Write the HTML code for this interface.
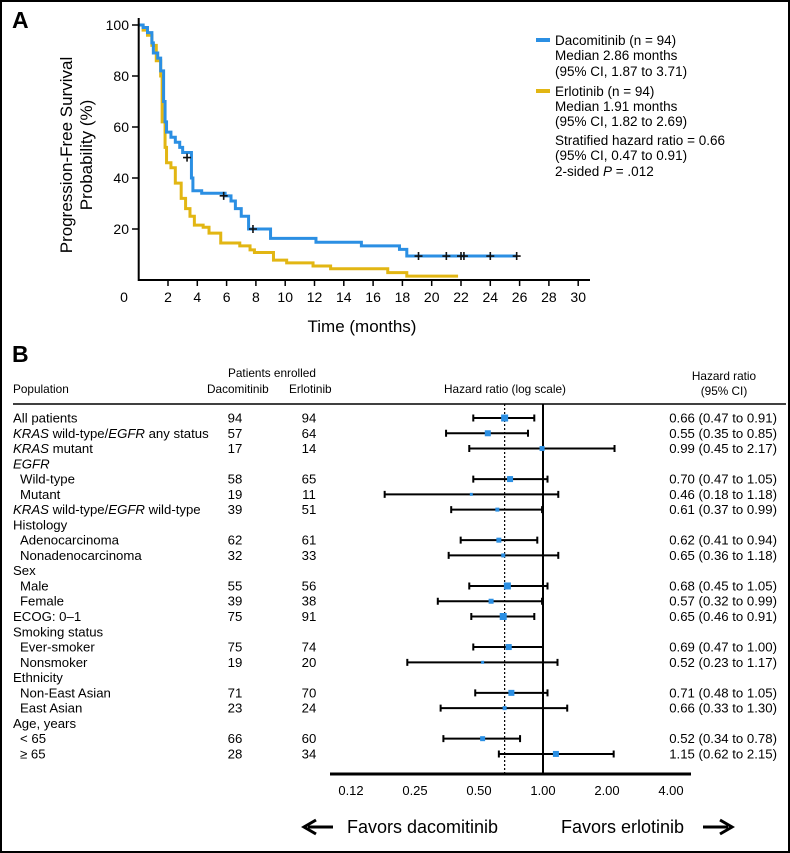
<!DOCTYPE html>
<html><head><meta charset="utf-8"><style>
html,body{margin:0;padding:0;background:#fff}
svg{display:block;font-family:"Liberation Sans",Arial,sans-serif}
</style></head><body>
<svg id="fig" width="790" height="853" viewBox="0 0 790 853" xmlns="http://www.w3.org/2000/svg">
<rect x="1" y="1" width="788" height="851" fill="#fff" stroke="#000" stroke-width="2"/>
<text x="12" y="28" font-size="23" font-weight="bold">A</text>
<text x="12" y="362" font-size="23" font-weight="bold">B</text>
<g id="km"></g>
<g id="forest"></g>
</svg>
<script>
const NS="http://www.w3.org/2000/svg";
// ---- KM data ----
const kmXTicks=[2,4,6,8,10,12,14,16,18,20,22,24,26,28,30];
const kmYTicks=[20,40,60,80,100];
const dacoTimes=[0,0.3,0.6,0.9,1.0,1.3,1.5,1.7,1.8,1.9,2.2,2.5,2.8,3.0,3.6,3.7,4.3,5.9,6.3,6.6,7.0,7.5,9.0,12.1,15.2,17.8,18.3,25.8];
const dacoSurv=[100,99,97,93,89,87,82,70,62,58,56,54,52,50,40,35,34,33,31,28,25,20,16.3,14.8,13.4,12,9.4,9.4];
const dacoCensorT=[3.3,5.8,7.8,19.1,21.0,22.0,22.2,24.0,25.8];
const dacoCensorS=[48,33,20,9.4,9.4,9.4,9.4,9.4,9.4];
const erloTimes=[0,0.3,0.6,0.9,1.2,1.5,1.6,1.8,1.9,2.2,2.5,2.9,3.2,3.5,3.8,4.4,4.8,5.6,6.9,7.6,7.9,9.2,10.1,11.9,13.1,17.0,18.3,21.8];
const erloSurv=[100,98,96,92,86,80,62,52,46,44,38,32,28,25,21.5,20.7,18.4,14.5,13.4,11.8,10.8,7.8,6.7,5.5,4.4,2.9,1.5,1.5];
const kx=t=>138.7+t*14.65, ky=s=>280-s*2.55;
function el(tag,attrs,parent,txt){const e=document.createElementNS(NS,tag);for(const k in attrs)e.setAttribute(k,attrs[k]);if(txt!==undefined)e.textContent=txt;parent.appendChild(e);return e;}
const km=document.getElementById('km');
function stepPath(T,S){let d=`M${kx(T[0])},${ky(S[0])}`;for(let i=1;i<T.length;i++){d+=`H${kx(T[i])}V${ky(S[i])}`;}return d;}
let p=el('path',{d:stepPath(erloTimes,erloSurv),fill:'none',stroke:'#e2b613','stroke-width':3},km);


p=el('path',{d:stepPath(dacoTimes,dacoSurv),fill:'none',stroke:'#2b8fe3','stroke-width':3},km);


dacoCensorT.forEach((t,i)=>{const g=el('path',{d:`M${kx(t)-4},${ky(dacoCensorS[i])}h8M${kx(t)},${ky(dacoCensorS[i])-4}v8`,stroke:'#111','stroke-width':1.6},km);

});
let ax=el('path',{d:`M138.7,18V280H590`,fill:'none',stroke:'#000','stroke-width':2},km);


kmXTicks.forEach(t=>{const tk=el('line',{x1:kx(t),x2:kx(t),y1:280,y2:286,stroke:'#000','stroke-width':1.5},km);


const l=el('text',{x:kx(t),y:302,'font-size':14,'text-anchor':'middle'},km,String(t));

});
let z=el('text',{x:124,y:302,'font-size':14,'text-anchor':'middle'},km,'0');


kmYTicks.forEach(s=>{const tk=el('line',{x1:132,x2:138.7,y1:ky(s),y2:ky(s),stroke:'#000','stroke-width':1.5},km);


const l=el('text',{x:129,y:ky(s)+5,'font-size':14,'text-anchor':'end'},km,String(s));

});
let xt=el('text',{x:362,y:332,'font-size':17,'text-anchor':'middle'},km,'Time (months)');


let yt=el('text',{transform:'translate(72,155) rotate(-90)','font-size':17,'text-anchor':'middle'},km,'Progression-Free Survival');


let yt2=el('text',{transform:'translate(92,155) rotate(-90)','font-size':17,'text-anchor':'middle'},km,'Probability (%)');


// legend
const lg=el('g',{},km);


let ll=el('line',{x1:536,x2:550,y1:40,y2:40,stroke:'#2b8fe3','stroke-width':4},lg);


ll=el('line',{x1:536,x2:550,y1:91,y2:91,stroke:'#e2b613','stroke-width':4},lg);


const legLines=[[45,'Dacomitinib (n = 94)'],[60,'Median 2.86 months'],[76,'(95% CI, 1.87 to 3.71)'],[96,'Erlotinib (n = 94)'],[111,'Median 1.91 months'],[126,'(95% CI, 1.82 to 2.69)'],[145,'Stratified hazard ratio = 0.66'],[160,'(95% CI, 0.47 to 0.91)']];
legLines.forEach(([y,t])=>{const e=el('text',{x:555,y:y,'font-size':13.5},lg,t);

});
let pv=el('text',{x:555,y:176,'font-size':13.5},lg);


pv.innerHTML='2-sided <tspan font-style="italic">P</tspan> = .012';

// ---- Forest data ----
const rowLabels=['All patients','|KRAS| wild-type/|EGFR| any status','|KRAS| mutant','|EGFR|','  Wild-type','  Mutant','|KRAS| wild-type/|EGFR| wild-type','Histology','  Adenocarcinoma','  Nonadenocarcinoma','Sex','  Male','  Female','ECOG: 0–1','Smoking status','  Ever-smoker','  Nonsmoker','Ethnicity','  Non-East Asian','  East Asian','Age, years','  < 65','  ≥ 65'];
const nDaco=[94,57,17,null,58,19,39,null,62,32,null,55,39,75,null,75,19,null,71,23,null,66,28];
const nErlo=[94,64,14,null,65,11,51,null,61,33,null,56,38,91,null,74,20,null,70,24,null,60,34];
const hr=[0.66,0.55,0.99,null,0.70,0.46,0.61,null,0.62,0.65,null,0.68,0.57,0.65,null,0.69,0.52,null,0.71,0.66,null,0.52,1.15];
const ciLow=[0.47,0.35,0.45,null,0.47,0.18,0.37,null,0.41,0.36,null,0.45,0.32,0.46,null,0.47,0.23,null,0.48,0.33,null,0.34,0.62];
const ciHigh=[0.91,0.85,2.17,null,1.05,1.18,0.99,null,0.94,1.18,null,1.05,0.99,0.91,null,1.00,1.17,null,1.05,1.30,null,0.78,2.15];
const boxSize=[7,6,5,null,6,3,4,null,5,4,null,7,5,7,null,6,3,null,6,4,null,5,6];
const fTicks=[0.125,0.25,0.5,1,2,4];
const fTickLabels=['0.12','0.25','0.50','1.00','2.00','4.00'];
const overallHR=0.66;
const fx=v=>543+64*Math.log2(v);
const ry=i=>418+i*15.27;
const fo=document.getElementById('forest');
const hdr=[[228,377,'Patients enrolled','start'],[13,393,'Population','start'],[207,393,'Dacomitinib','start'],[289,393,'Erlotinib','start'],[505,393,'Hazard ratio (log scale)','middle'],[724,380,'Hazard ratio','middle'],[724,395,'(95% CI)','middle']];
hdr.forEach(([x,y,t,a])=>{const e=el('text',{x:x,y:y,'font-size':11.8,'text-anchor':a},fo,t);

});
let hl=el('line',{x1:13,x2:786,y1:404,y2:404,stroke:'#000','stroke-width':1.5},fo);


let ref=el('line',{x1:fx(1),x2:fx(1),y1:404,y2:774,stroke:'#000','stroke-width':2},fo);


let ov=el('line',{x1:fx(overallHR),x2:fx(overallHR),y1:404,y2:774,stroke:'#000','stroke-width':1.2,'stroke-dasharray':'2,2'},fo);


rowLabels.forEach((lab,i)=>{const y=ry(i);
const t=el('text',{x:lab.startsWith('  ')?20:13,y:y+4.5,'font-size':13.2},fo);


lab.trim().split('|').forEach((s,j)=>{if(s)el('tspan',{'font-style':j%2?'italic':'normal'},t,s);});
if(nDaco[i]!==null){const a=el('text',{x:235,y:y+4.5,'font-size':13.2,'text-anchor':'middle'},fo,String(nDaco[i]));


const b=el('text',{x:309,y:y+4.5,'font-size':13.2,'text-anchor':'middle'},fo,String(nErlo[i]));

}
if(hr[i]!==null){
const c=el('path',{d:`M${fx(ciLow[i])},${y}H${fx(ciHigh[i])}M${fx(ciLow[i])},${y-3.5}v7M${fx(ciHigh[i])},${y-3.5}v7`,stroke:'#000','stroke-width':2,fill:'none'},fo);


const s=boxSize[i];
const r=el('rect',{x:fx(hr[i])-s/2,y:y-s/2,width:s,height:s,fill:'#2b8fe3'},fo);


const v=el('text',{x:777,y:y+4.5,'font-size':13.2,'text-anchor':'end'},fo,`${hr[i].toFixed(2)} (${ciLow[i].toFixed(2)} to ${ciHigh[i].toFixed(2)})`);

}
});
let fa=el('line',{x1:330,x2:691,y1:774,y2:774,stroke:'#000','stroke-width':3},fo);


fTicks.forEach((v,i)=>{const t=el('text',{x:fx(v),y:795,'font-size':13,'text-anchor':'middle'},fo,fTickLabels[i]);

});
let f1=el('text',{x:347,y:833,'font-size':18},fo,'Favors dacomitinib');


let f2=el('text',{x:561,y:833,'font-size':18},fo,'Favors erlotinib');


let a1=el('path',{d:'M333,827H308M316,820L304,827L316,834',stroke:'#000','stroke-width':3,fill:'none'},fo);


let a2=el('path',{d:'M703,827H728M720,820L732,827L720,834',stroke:'#000','stroke-width':3,fill:'none'},fo);


</script>
</body></html>
